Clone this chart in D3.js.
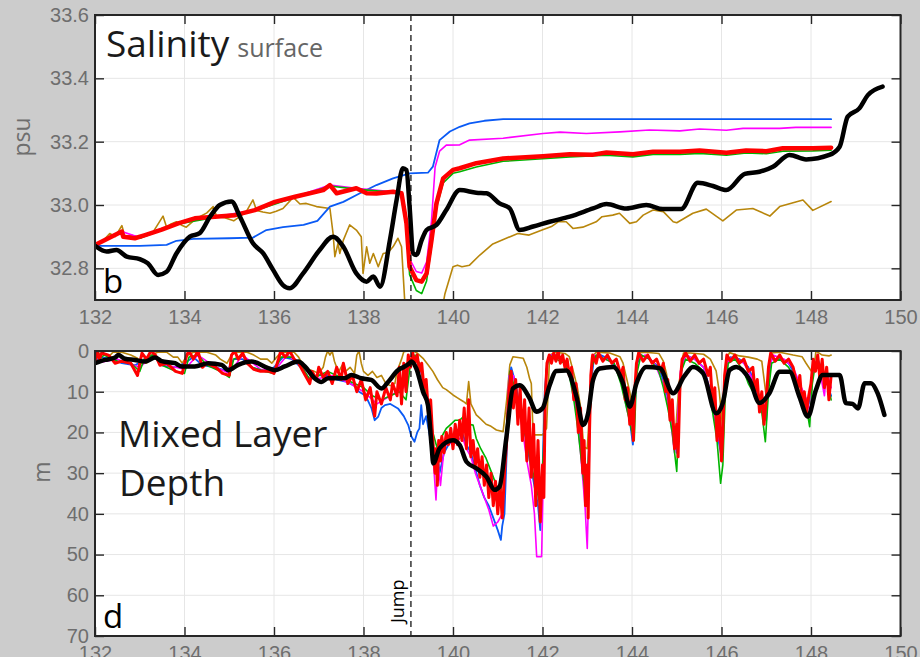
<!DOCTYPE html>
<html>
<head>
<meta charset="utf-8">
<script src="https://cdn.jsdelivr.net/npm/d3@7"></script>
<style>
    body { margin: 0; background: #cccccc; }
    .tick-label { font-family: "Liberation Sans", Arial, sans-serif; font-size: 20px; fill: #6e6e6e; }
    .panel-text { font-family: "Open Sans", "Noto Sans", sans-serif; }
</style>
</head>
<body>
<div id="chart"></div>
<script>
// ---- data: [day, value] ----
const xTicks = [132, 134, 136, 138, 140, 142, 144, 146, 148, 150];
const salTicks = [32.8, 33.0, 33.2, 33.4, 33.6];
const mldTicks = [0, 10, 20, 30, 40, 50, 60, 70];
const jumpDay = 139.06;

// surface salinity (psu)
const salBlue = [[132,32.871],[133.0,32.871],[133.6,32.874],[133.82,32.887],[134.2,32.893],[135.0,32.895],[135.53,32.897],[135.83,32.921],[136.2,32.93],[136.66,32.937],[136.97,32.95],[137.25,32.995],[137.55,33.01],[137.92,33.037],[138.29,33.063],[138.66,33.084],[139.03,33.1],[139.44,33.102],[139.55,33.121],[139.70,33.205],[139.93,33.232],[140.15,33.247],[140.37,33.258],[140.7,33.266],[141.12,33.271],[148.45,33.271]];
const salMagenta = [[132,32.871],[132.6,32.916],[133.0,32.897],[133.86,32.942],[134.68,32.963],[135.57,32.984],[136.47,33.026],[137.25,33.063],[137.84,33.053],[138.66,33.042],[138.85,33.037],[138.96,32.95],[139.03,32.83],[139.18,32.79],[139.30,32.785],[139.41,32.82],[139.52,32.95],[139.6,33.12],[139.7,33.17],[139.85,33.189],[140.15,33.19],[140.37,33.205],[141.12,33.211],[142.01,33.226],[142.39,33.23],[142.98,33.226],[143.73,33.231],[144.39,33.237],[145.07,33.234],[145.51,33.24],[146.11,33.236],[146.48,33.242],[147.30,33.242],[147.66,33.245],[148.45,33.245]];
const salGreen = [[132,32.871],[132.6,32.914],[132.63,32.897],[133.0,32.895],[133.86,32.94],[134.68,32.961],[135.57,32.982],[136.47,33.024],[137.25,33.06],[137.84,33.05],[138.66,33.04],[138.85,33.035],[138.96,32.93],[139.03,32.78],[139.18,32.73],[139.30,32.72],[139.41,32.76],[139.52,32.87],[139.63,32.99],[139.78,33.07],[140.0,33.10],[140.15,33.105],[140.52,33.12],[141.12,33.138],[142.01,33.146],[142.61,33.152],[143.43,33.157],[144.02,33.152],[144.47,33.16],[145.07,33.16],[145.51,33.163],[146.11,33.157],[146.55,33.164],[147.0,33.162],[147.37,33.17],[148.04,33.171],[148.45,33.173]];
const salRed = [[132.0,32.874],[132.6,32.916],[132.63,32.9],[132.89,32.895],[133.12,32.905],[133.49,32.922],[133.86,32.942],[134.23,32.958],[134.68,32.963],[135.13,32.968],[135.57,32.984],[136.02,33.01],[136.47,33.026],[137.10,33.047],[137.25,33.063],[137.40,33.037],[137.84,33.053],[138.07,33.037],[138.29,33.036],[138.66,33.042],[138.85,33.037],[138.96,32.942],[139.03,32.805],[139.18,32.763],[139.30,32.758],[139.41,32.784],[139.52,32.889],[139.63,33.005],[139.78,33.084],[140.0,33.111],[140.15,33.116],[140.52,33.132],[141.12,33.147],[142.01,33.154],[142.61,33.16],[143.13,33.159],[143.43,33.166],[144.02,33.16],[144.47,33.168],[145.07,33.168],[145.51,33.172],[146.11,33.165],[146.55,33.172],[147.0,33.17],[147.37,33.179],[148.04,33.179],[148.45,33.181]];
const salBrown = [[132.0,32.871],[132.2,32.89],[132.33,32.91],[132.45,32.9],[132.6,32.935],[132.67,32.9],[132.8,32.905],[132.93,32.9],[133.0,32.895],[133.15,32.905],[133.3,32.915],[133.52,32.965],[133.6,32.93],[133.7,32.94],[133.82,32.947],[133.95,32.935],[134.04,32.93],[134.2,32.95],[134.34,32.963],[134.5,32.975],[134.64,32.995],[134.72,32.963],[134.9,32.96],[135.1,32.95],[135.25,32.965],[135.38,32.979],[135.53,33.016],[135.61,32.983],[135.75,32.978],[135.91,32.974],[136.05,32.98],[136.2,32.989],[136.43,33.024],[136.58,33.003],[136.72,33.005],[136.95,32.995],[137.25,32.989],[137.32,32.91],[137.36,32.837],[137.43,32.879],[137.47,32.847],[137.55,32.889],[137.69,32.937],[137.84,32.921],[137.95,32.9],[137.99,32.784],[138.07,32.868],[138.14,32.816],[138.22,32.847],[138.33,32.805],[138.44,32.847],[138.55,32.85],[138.66,32.868],[138.77,32.895],[138.85,32.868],[138.92,32.7],[139.0,32.6],[139.3,32.55],[139.6,32.55],[139.82,32.72],[140.0,32.805],[140.1,32.81],[140.2,32.805],[140.37,32.81],[140.6,32.842],[140.89,32.877],[141.19,32.895],[141.45,32.91],[141.7,32.905],[141.99,32.921],[142.2,32.932],[142.35,32.947],[142.53,32.947],[142.68,32.926],[142.9,32.93],[143.2,32.947],[143.33,32.963],[143.57,32.968],[143.72,32.974],[143.95,32.942],[144.1,32.947],[144.25,32.968],[144.47,32.984],[144.7,32.979],[144.92,32.947],[145.0,32.944],[145.36,32.974],[145.66,32.987],[146.03,32.95],[146.33,32.984],[146.70,32.989],[147.08,32.965],[147.30,32.995],[147.82,33.016],[148.04,32.983],[148.45,33.011]];
const salBlack = [[132.0,32.871],[132.26,32.853],[132.48,32.858],[132.71,32.837],[133.0,32.829],[133.18,32.816],[133.41,32.779],[133.6,32.789],[133.82,32.847],[134.12,32.9],[134.34,32.911],[134.57,32.963],[134.79,33.0],[135.05,33.011],[135.24,32.963],[135.53,32.879],[135.76,32.847],[135.98,32.795],[136.2,32.747],[136.35,32.737],[136.65,32.784],[137.02,32.858],[137.32,32.9],[137.55,32.868],[137.84,32.784],[138.07,32.758],[138.22,32.774],[138.37,32.742],[138.59,32.889],[138.74,33.016],[138.88,33.116],[138.96,33.11],[139.03,32.995],[139.11,32.847],[139.18,32.842],[139.30,32.889],[139.41,32.921],[139.63,32.937],[139.85,32.984],[140.15,33.047],[140.52,33.039],[140.75,33.037],[141.04,33.005],[141.27,32.989],[141.49,32.921],[141.79,32.932],[142.16,32.947],[142.61,32.963],[143.13,32.989],[143.43,33.003],[143.87,32.989],[144.32,33.0],[144.69,32.987],[145.10,32.987],[145.47,33.070],[145.81,33.060],[146.11,33.047],[146.52,33.098],[146.85,33.105],[147.15,33.121],[147.52,33.158],[147.89,33.144],[148.41,33.158],[148.64,33.184],[148.82,33.279],[149.08,33.305],[149.27,33.347],[149.60,33.374]];

// mixed layer depth (m)
const mldBlue = [[132.0,3],[132.1,1.5],[132.4,2],[132.6,3],[132.9,3.5],[133.1,2],[133.3,1],[133.5,3.5],[133.8,4],[134.0,3],[134.2,1.5],[134.4,3.5],[134.7,4],[134.95,5],[135.1,2],[135.3,2],[135.5,4],[135.8,5],[136.0,4],[136.2,1.5],[136.4,2],[136.6,4],[136.8,7],[137.0,6],[137.2,6],[137.4,7],[137.6,7.5],[137.8,8.5],[137.9,10],[138.05,11],[138.18,14.1],[138.25,17],[138.33,16.1],[138.4,14],[138.48,13.3],[138.6,13],[138.77,14.1],[138.9,16],[139.0,18.2],[139.07,21],[139.14,22.3],[139.2,20],[139.25,19],[139.29,13.3],[139.33,18],[139.4,16],[139.5,22],[139.6,28],[139.65,25],[139.7,30],[139.8,25],[139.9,23],[140.0,22],[140.1,21],[140.2,20],[140.3,23],[140.4,25],[140.5,29],[140.6,33],[140.7,36],[140.8,38],[140.9,41],[141.0,44],[141.07,46.4],[141.1,43],[141.15,40],[141.2,25],[141.25,8],[141.3,4],[141.4,8],[141.5,14],[141.6,20],[141.7,26],[141.8,32],[141.9,38],[141.95,44],[142.0,30],[142.05,10],[142.1,3],[142.2,1],[142.35,1],[142.5,3],[142.6,5],[142.7,10],[142.8,18],[142.9,28],[142.98,38],[143.02,30],[143.08,8],[143.15,2],[143.3,1],[143.5,2],[143.7,5],[143.85,10],[143.95,17],[144.02,23],[144.07,12],[144.12,3],[144.2,1],[144.4,2],[144.6,4],[144.75,9],[144.9,17],[145.0,25],[145.05,12],[145.12,3],[145.2,1],[145.4,2],[145.6,4],[145.75,10],[145.9,20],[146.0,26],[146.05,12],[146.12,3],[146.2,1.5],[146.4,2],[146.6,4],[146.75,8],[146.9,13],[147.0,17],[147.05,6],[147.12,2],[147.3,2],[147.5,3],[147.7,7],[147.85,11],[147.95,13],[148.05,4],[148.15,2],[148.3,6],[148.45,11]];
const mldMagenta = [[132.0,3],[132.5,2],[133.0,4],[133.3,1],[133.6,3.5],[134.0,4.5],[134.3,1],[134.7,4],[135.0,5.5],[135.3,1],[135.7,4.5],[136.0,5],[136.3,1],[136.6,3.5],[136.9,7],[137.3,6],[137.7,8],[138.0,10],[138.3,13],[138.6,11],[138.9,9],[139.05,2],[139.2,2],[139.35,8],[139.5,18],[139.58,30],[139.62,36.6],[139.66,27],[139.72,33],[139.8,24],[139.9,22],[140.0,23],[140.1,22],[140.2,21],[140.3,24],[140.4,26],[140.5,30],[140.6,33],[140.7,36],[140.8,39],[140.9,43],[141.0,42],[141.1,40],[141.18,24],[141.25,6],[141.35,6],[141.45,13],[141.55,19],[141.65,27],[141.75,33],[141.82,40],[141.87,50.5],[141.98,50.5],[142.02,30],[142.08,5],[142.15,1],[142.35,1],[142.55,3],[142.65,7],[142.75,14],[142.85,25],[142.95,38],[143.0,48.5],[143.04,30],[143.08,6],[143.15,1],[143.4,2],[143.6,3],[143.75,7],[143.9,15],[144.0,19],[144.06,10],[144.12,2],[144.3,1],[144.5,3],[144.7,8],[144.85,16],[144.95,25],[145.0,21],[145.08,5],[145.2,1],[145.4,2],[145.6,4],[145.75,10],[145.9,19],[146.0,25],[146.06,10],[146.15,2],[146.3,1.5],[146.5,3],[146.7,7],[146.85,12],[146.95,16],[147.05,5],[147.15,1],[147.4,2],[147.6,4],[147.75,8],[147.9,12],[147.98,15],[148.05,4],[148.15,2],[148.3,11],[148.35,5],[148.45,9]];
const mldGreen = [[132.0,3],[132.2,1],[132.5,2.5],[132.8,3],[133.0,5],[133.1,2],[133.3,1],[133.5,3.5],[133.8,5],[134.0,5.5],[134.1,1.5],[134.3,1],[134.5,3.5],[134.8,5],[135.0,6.5],[135.1,2],[135.3,1],[135.5,4],[135.8,5],[136.0,5.5],[136.15,1.5],[136.4,1.5],[136.6,3.5],[136.8,7],[137.0,6],[137.2,5],[137.4,6],[137.6,7],[137.8,8],[138.0,9],[138.2,11],[138.4,12],[138.6,11],[138.8,10],[138.95,12],[139.05,3],[139.15,1],[139.25,3],[139.35,8],[139.45,14],[139.55,20],[139.65,24],[139.75,21],[139.85,19],[139.95,18],[140.05,17],[140.15,17],[140.25,16],[140.35,18],[140.45,18.2],[140.52,21.5],[140.62,24],[140.74,26.4],[140.85,29.5],[140.97,33],[141.05,36],[141.12,30],[141.2,18],[141.27,5],[141.35,8],[141.45,14],[141.55,18],[141.65,22],[141.75,28],[141.85,33],[141.95,38],[142.02,25],[142.08,5],[142.15,1],[142.3,2],[142.5,3],[142.6,6],[142.7,12],[142.8,20],[142.9,30],[142.98,37],[143.05,20],[143.1,4],[143.2,1],[143.4,2],[143.6,3],[143.75,8],[143.9,15],[144.0,20],[144.05,22],[144.1,6],[144.2,1],[144.4,2],[144.6,5],[144.7,9],[144.8,14],[144.9,20],[145.0,29.6],[145.04,18],[145.1,5],[145.2,2],[145.4,3],[145.6,5],[145.7,9],[145.8,15],[145.9,22],[145.98,32.5],[146.03,28],[146.08,12],[146.15,3],[146.3,2],[146.5,5],[146.6,8],[146.7,10],[146.8,12],[146.9,15],[146.98,22.3],[147.05,10],[147.12,3],[147.3,2],[147.5,4],[147.65,7],[147.8,12],[147.9,14],[147.97,18.6],[148.03,8],[148.1,3],[148.25,5],[148.4,9],[148.45,12]];
const mldRed = [[132.0,3],[132.05,0],[132.1,2],[132.15,0.5],[132.3,1],[132.45,3],[132.6,2.5],[132.8,3],[132.95,6],[133.0,3],[133.05,0.5],[133.15,2],[133.25,0],[133.35,1],[133.45,3.5],[133.6,3],[133.8,5],[133.95,5.5],[134.05,1],[134.1,0],[134.2,2],[134.3,0],[134.4,4],[134.5,3],[134.7,4],[134.85,5.5],[135.0,6],[135.05,1],[135.12,0],[135.2,2],[135.3,0.5],[135.4,3],[135.55,4.5],[135.7,5],[135.9,5],[136.0,5.5],[136.1,2],[136.15,0],[136.25,1.5],[136.35,0],[136.45,2],[136.55,3],[136.7,6],[136.8,8],[136.85,5],[136.95,7],[137.0,4],[137.1,6.5],[137.2,5],[137.3,8],[137.4,4],[137.5,7],[137.55,3],[137.65,8],[137.75,6],[137.85,10],[137.95,7],[138.05,12],[138.15,9],[138.25,16],[138.3,10],[138.4,13],[138.5,9],[138.6,12],[138.65,8],[138.75,11],[138.8,4],[138.85,13],[138.9,3],[138.95,10],[139.0,1],[139.05,4],[139.1,0.5],[139.15,3],[139.2,1],[139.25,5],[139.3,3],[139.35,9],[139.4,7],[139.45,15],[139.5,12],[139.55,22],[139.6,30],[139.62,24],[139.65,33],[139.68,22],[139.72,27],[139.75,21],[139.8,25],[139.85,20],[139.9,23],[139.95,19],[140.0,24],[140.05,18],[140.1,23],[140.15,17],[140.2,22],[140.25,14],[140.3,24],[140.35,12],[140.4,26],[140.45,22],[140.5,28],[140.55,24],[140.6,31],[140.65,26],[140.7,33],[140.75,28],[140.8,36],[140.85,30],[140.9,38],[140.95,32],[141.0,40],[141.05,33],[141.1,41],[141.15,30],[141.2,22],[141.25,10],[141.3,5],[141.35,14],[141.4,7],[141.45,18],[141.5,9],[141.55,22],[141.6,12],[141.65,27],[141.7,14],[141.75,31],[141.8,18],[141.85,38],[141.9,22],[141.95,42],[142.0,28],[142.03,36],[142.06,12],[142.1,3],[142.15,1],[142.2,3],[142.25,0.5],[142.3,2.5],[142.35,0],[142.4,3],[142.45,1],[142.5,4],[142.55,2],[142.6,6],[142.65,4],[142.7,12],[142.75,8],[142.8,20],[142.85,14],[142.9,30],[142.93,22],[142.96,38],[143.0,28],[143.02,41],[143.05,20],[143.08,6],[143.12,1],[143.2,3],[143.25,0.5],[143.35,2.5],[143.45,1],[143.55,3],[143.65,2],[143.75,6],[143.8,4],[143.85,12],[143.9,9],[143.95,18],[144.0,13],[144.03,22],[144.06,10],[144.1,3],[144.15,0.5],[144.25,2.5],[144.35,1],[144.45,3],[144.55,2],[144.65,5],[144.7,3],[144.75,10],[144.8,7],[144.85,17],[144.9,12],[144.95,24],[145.0,18],[145.03,26],[145.07,9],[145.12,2],[145.2,0.5],[145.3,2.5],[145.4,1],[145.5,3],[145.6,2],[145.7,6],[145.75,4],[145.8,13],[145.85,9],[145.9,22],[145.95,15],[146.0,27],[146.03,20],[146.07,6],[146.12,1],[146.2,2.5],[146.3,1],[146.4,3],[146.5,2],[146.6,5],[146.7,4],[146.75,10],[146.8,7],[146.85,15],[146.9,10],[146.95,18],[147.0,12],[147.05,4],[147.1,0.5],[147.2,2.5],[147.3,1],[147.4,3],[147.5,2],[147.6,4],[147.7,9],[147.75,6],[147.8,13],[147.85,10],[147.9,15],[147.95,11],[148.0,8],[148.05,2],[148.1,5],[148.15,1],[148.2,7],[148.25,2],[148.3,9],[148.35,4],[148.4,12],[148.45,6]];
const mldBrown = [[132.0,0.4],[132.1,0.6],[132.2,0.6],[132.3,1.5],[132.4,0.3],[132.6,0.3],[132.8,1.0],[132.95,1.8],[133.0,3],[133.15,3],[133.25,1],[133.4,0.3],[133.6,0.3],[133.75,1.5],[133.85,1.5],[133.95,3],[134.05,1.2],[134.2,0.3],[134.5,0.3],[134.7,1],[134.8,2],[134.95,3],[135.05,1],[135.15,0.3],[135.4,0.3],[135.55,1],[135.7,2],[135.85,2],[135.95,3],[136.1,1],[136.2,0.3],[136.45,0.3],[136.55,1.5],[136.65,3.5],[136.75,4.5],[136.9,5],[137.0,5.5],[137.1,4],[137.15,1.5],[137.2,0],[137.25,1],[137.3,0],[137.35,2.5],[137.4,4],[137.45,5],[137.55,3],[137.6,5],[137.7,4],[137.8,5.5],[137.85,1],[137.9,0],[137.95,3],[138.0,5],[138.1,6],[138.2,5],[138.3,6.5],[138.4,6],[138.5,8],[138.6,8.5],[138.7,8],[138.75,5],[138.85,2],[138.9,0.2],[139.0,0],[139.1,0],[139.2,0.5],[139.33,1.8],[139.45,3.5],[139.55,5],[139.65,7],[139.77,9],[139.85,9.5],[140.0,10.8],[140.1,11.5],[140.23,12.4],[140.3,13],[140.35,7.5],[140.4,13],[140.52,15.7],[140.6,16.5],[140.74,18],[140.85,18.5],[140.97,19.4],[141.12,19.8],[141.2,12],[141.27,3.4],[141.34,1.4],[141.57,1.8],[141.65,4],[141.71,6.7],[141.75,8],[141.79,20.6],[142.0,20.6],[142.09,19],[142.16,1],[142.3,0.3],[142.5,0.6],[142.6,1.4],[142.7,5.5],[142.78,9],[142.85,13.7],[142.92,23.5],[143.0,24],[143.05,15],[143.1,1.4],[143.2,0.3],[143.5,0.5],[143.73,1.4],[143.8,3],[143.87,6.3],[143.95,10],[144.02,15],[144.08,8],[144.13,0.5],[144.3,0.3],[144.6,0.6],[144.7,2.5],[144.77,5.5],[144.85,12],[144.92,21.8],[144.97,20.6],[145.05,8],[145.15,0.5],[145.3,0.5],[145.6,0.8],[145.75,2],[145.88,4.9],[145.95,10],[146.03,19.4],[146.1,2],[146.18,0.4],[146.4,1.2],[146.6,1.5],[146.8,2],[146.9,2.5],[147.0,11.2],[147.05,8],[147.1,0.5],[147.3,0.3],[147.6,1],[147.8,1.4],[147.89,3],[148.04,5.5],[148.08,3],[148.11,0],[148.25,1],[148.4,1.2],[148.45,1]];
const mldBlack = [[132.0,3.0],[132.22,2.2],[132.45,1.6],[132.52,1.0],[132.67,1.9],[132.89,2.2],[133.12,2.6],[133.34,1.6],[133.49,2.5],[133.79,3.0],[133.94,3.8],[134.23,3.8],[134.53,3.0],[134.83,3.4],[134.98,4.7],[135.2,3.4],[135.5,2.6],[135.87,4.2],[136.02,4.7],[136.24,3.8],[136.54,2.6],[136.69,3.8],[136.91,6.7],[137.06,7.6],[137.21,6.7],[137.58,6.7],[137.73,5.9],[137.95,6.7],[138.17,7.1],[138.40,9.2],[138.55,7.6],[138.77,4.7],[138.92,3.8],[139.03,3.0],[139.07,2.6],[139.18,4.3],[139.33,10],[139.44,13.3],[139.52,23.1],[139.56,27.6],[139.70,23.9],[140.0,21.9],[140.15,23.1],[140.30,27.2],[140.52,28.8],[140.75,30.9],[140.93,34.1],[141.04,33.3],[141.19,21.5],[141.34,9.2],[141.49,8.4],[141.71,11.6],[141.86,14.9],[142.0,14.1],[142.16,8.4],[142.31,4.9],[142.53,4.8],[142.76,11.2],[142.91,18.2],[143.02,15.3],[143.13,7.1],[143.28,4.3],[143.58,3.9],[143.80,7.9],[143.95,13.7],[144.10,7.9],[144.32,3.9],[144.62,4.2],[144.92,10.4],[145.17,6.2],[145.36,3.9],[145.59,5.5],[145.88,15.3],[146.03,12.7],[146.18,4.7],[146.33,3.9],[146.63,7.1],[146.85,12.8],[147.07,10.4],[147.30,5.1],[147.52,5.1],[147.74,11.2],[147.93,16.1],[148.11,9.6],[148.26,5.9],[148.64,5.9],[148.78,12.8],[148.93,13.0],[149.05,14.1],[149.20,7.9],[149.34,7.9],[149.49,10.4],[149.64,15.7]];

// series styling (drawn in this order)
const salSeries = [
    { data: salBrown, color: "#b8860b", width: 1.6 },
    { data: salBlue, color: "#0a5af5", width: 1.8 },
    { data: salMagenta, color: "#ff00ff", width: 1.6 },
    { data: salGreen, color: "#00b400", width: 1.6 },
    { data: salRed, color: "#ff0000", width: 4.5 },
    { data: salBlack, color: "#000000", width: 4.5, smooth: true }
];
const mldSeries = [
    { data: mldBrown, color: "#b8860b", width: 1.6 },
    { data: mldBlue, color: "#0a5af5", width: 1.8 },
    { data: mldMagenta, color: "#ff00ff", width: 1.6 },
    { data: mldGreen, color: "#00b400", width: 1.6 },
    { data: mldRed, color: "#ff0000", width: 3 },
    { data: mldBlack, color: "#000000", width: 4.5, smooth: true }
];

const W = 920, H = 657;
const left = 95, right = 900.5;

const svg = d3.select("#chart").append("svg")
    .attr("width", W)
    .attr("height", H);

svg.append("rect").attr("width", W).attr("height", H).attr("fill", "#cccccc");

// Draws one MATLAB-style panel
function drawPanel(id, top, bottom, yDomain, yTicks, yFormat, series) {
    const x = d3.scaleLinear().domain([132, 150]).range([left, right]);
    const y = d3.scaleLinear().domain(yDomain).range([bottom, top]);

    const g = svg.append("g");

    g.append("rect")
        .attr("x", left).attr("y", top)
        .attr("width", right - left).attr("height", bottom - top)
        .attr("fill", "#ffffff");

    // grid
    g.selectAll(".vgrid").data(xTicks.slice(1, -1)).enter().append("line")
        .attr("x1", d => x(d)).attr("x2", d => x(d))
        .attr("y1", top).attr("y2", bottom)
        .attr("stroke", "#e6e6e6").attr("stroke-width", 1);
    g.selectAll(".hgrid").data(yTicks).enter().append("line")
        .attr("x1", left).attr("x2", right)
        .attr("y1", d => y(d)).attr("y2", d => y(d))
        .attr("stroke", "#e6e6e6").attr("stroke-width", 1);

    // clip for lines
    svg.append("clipPath").attr("id", "clip-" + id)
        .append("rect")
        .attr("x", left).attr("y", top)
        .attr("width", right - left).attr("height", bottom - top);

    const lines = g.append("g").attr("clip-path", "url(#clip-" + id + ")");
    series.forEach(s => {
        const line = d3.line()
            .x(d => x(d[0]))
            .y(d => y(d[1]))
            .curve(s.smooth ? d3.curveMonotoneX : d3.curveLinear);
        lines.append("path")
            .datum(s.data)
            .attr("d", line)
            .attr("fill", "none")
            .attr("stroke", s.color)
            .attr("stroke-width", s.width)
            .attr("stroke-linejoin", "round")
            .attr("stroke-linecap", "round");
    });

    // jump marker
    g.append("line")
        .attr("x1", x(jumpDay)).attr("x2", x(jumpDay))
        .attr("y1", top).attr("y2", bottom)
        .attr("stroke", "#000").attr("stroke-width", 1.2)
        .attr("stroke-dasharray", "6,4");

    // axes with inward ticks
    const axB = g.append("g").attr("transform", "translate(0," + bottom + ")")
        .call(d3.axisBottom(x).tickValues(xTicks).tickSizeInner(-9).tickSizeOuter(0).tickPadding(10).tickFormat(d3.format("d")));
    const axT = g.append("g").attr("transform", "translate(0," + top + ")")
        .call(d3.axisTop(x).tickValues(xTicks).tickSizeInner(-9).tickSizeOuter(0).tickFormat(""));
    const axL = g.append("g").attr("transform", "translate(" + left + ",0)")
        .call(d3.axisLeft(y).tickValues(yTicks).tickSizeInner(-9).tickSizeOuter(0).tickPadding(6).tickFormat(yFormat));
    const axR = g.append("g").attr("transform", "translate(" + right + ",0)")
        .call(d3.axisRight(y).tickValues(yTicks).tickSizeInner(-9).tickSizeOuter(0).tickFormat(""));

    [axB, axT, axL, axR].forEach(a => {
        a.select(".domain").remove();
        a.selectAll(".tick line").attr("stroke", "#262626").attr("stroke-width", 1.4);
        a.selectAll(".tick text").attr("class", "tick-label").attr("fill", null);
    });

    // box
    g.append("rect")
        .attr("x", left).attr("y", top)
        .attr("width", right - left).attr("height", bottom - top)
        .attr("fill", "none")
        .attr("stroke", "#262626").attr("stroke-width", 2);

    return { x: x, y: y, g: g };
}

const salPanel = drawPanel("sal", 15, 300, [32.7, 33.6], salTicks, d3.format(".1f"), salSeries);
const mldPanel = drawPanel("mld", 351, 636, [70, 0], mldTicks, d3.format("d"), mldSeries);

// ---- panel text ----
const t1 = svg.append("text").attr("class", "panel-text")
    .attr("x", 106).attr("y", 57);
t1.append("tspan").attr("font-size", "37px").attr("fill", "#1a1a1a").text("Salinity");
t1.append("tspan").attr("font-size", "25px").attr("fill", "#666666").attr("dx", "8").text("surface");

svg.append("text").attr("class", "panel-text")
    .attr("x", 103).attr("y", 293)
    .attr("font-size", "33px").attr("fill", "#000").text("b");

svg.append("text").attr("class", "panel-text")
    .attr("x", 118).attr("y", 447)
    .attr("font-size", "37px").attr("fill", "#1a1a1a").text("Mixed Layer");
svg.append("text").attr("class", "panel-text")
    .attr("x", 119).attr("y", 496)
    .attr("font-size", "37px").attr("fill", "#1a1a1a").text("Depth");

svg.append("text").attr("class", "panel-text")
    .attr("x", 103).attr("y", 628)
    .attr("font-size", "33px").attr("fill", "#000").text("d");

svg.append("text").attr("class", "panel-text")
    .attr("transform", "translate(" + (mldPanel.x(jumpDay) - 7) + ",623) rotate(-90)")
    .attr("font-size", "18px").attr("fill", "#000").text("Jump");

// y axis titles
svg.append("text").attr("class", "panel-text")
    .attr("transform", "translate(30,137) rotate(-90)")
    .attr("text-anchor", "middle")
    .attr("font-size", "23px").attr("fill", "#6e6e6e").text("psu");
svg.append("text").attr("class", "panel-text")
    .attr("transform", "translate(50,472) rotate(-90)")
    .attr("text-anchor", "middle")
    .attr("font-size", "23px").attr("fill", "#6e6e6e").text("m");
</script>
</body>
</html>
